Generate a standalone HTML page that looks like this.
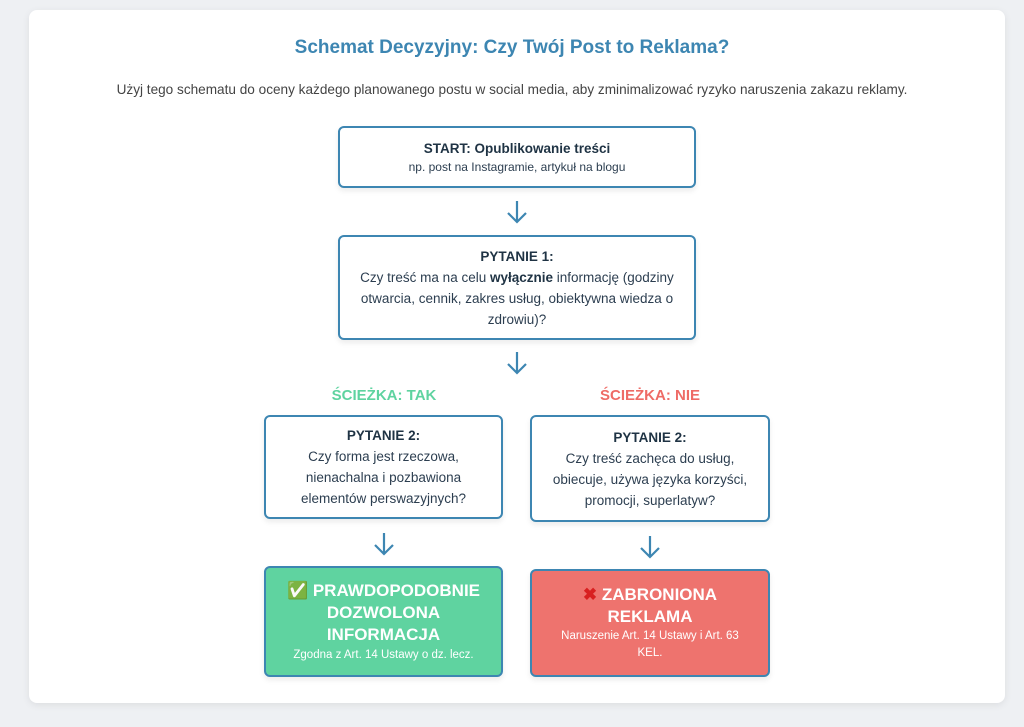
<!DOCTYPE html>
<html><head><meta charset="utf-8"><style>
body{margin:0;width:1024px;height:727px;background:#eef0f3;font-family:"Liberation Sans",sans-serif;position:relative;overflow:hidden}
.card{position:absolute;left:29px;top:10px;width:976px;height:693px;background:#fff;border-radius:8px;box-shadow:0 2px 8px rgba(0,0,0,.08)}
.t{position:absolute;left:0;width:1024px;text-align:center}
.box{position:absolute;box-sizing:border-box;border:2px solid #3d86b2;border-radius:6px;background:#fff;display:flex;flex-direction:column;justify-content:center;align-items:center;text-align:center;color:#2c3e50;font-size:13.5px;line-height:21px;box-shadow:0 3px 6px rgba(0,0,0,.08)}
.box b{color:#1f3344}
.arr{position:absolute;width:22px;height:24px}
.lab{position:absolute;font-weight:bold;font-size:15px;text-align:center;width:240px}
</style></head><body>
<div class="card"></div>
<div class="t" style="top:37px;font-size:19px;font-weight:bold;color:#3d86b2">Schemat Decyzyjny: Czy Twój Post to Reklama?</div>
<div class="t" style="top:82px;font-size:13.6px;color:#444">Użyj tego schematu do oceny każdego planowanego postu w social media, aby zminimalizować ryzyko naruszenia zakazu reklamy.</div>
<div class="box" style="left:338px;top:126px;width:358px;height:62px"><b>START: Opublikowanie treści</b><span style="font-size:12px;line-height:17px">np. post na Instagramie, artykuł na blogu</span></div>
<svg class="arr" style="left:506px;top:200px" viewBox="0 0 22 24"><path d="M11 1V22M2 13l9 9 9-9" fill="none" stroke="#3d86b2" stroke-width="2.2"/></svg>
<div class="box" style="left:338px;top:235px;width:358px;height:105px;padding:0 14px"><b>PYTANIE 1:</b><span>Czy treść ma na celu <b>wyłącznie</b> informację (godziny otwarcia, cennik, zakres usług, obiektywna wiedza o zdrowiu)?</span></div>
<svg class="arr" style="left:506px;top:351px" viewBox="0 0 22 24"><path d="M11 1V22M2 13l9 9 9-9" fill="none" stroke="#3d86b2" stroke-width="2.2"/></svg>
<div class="lab" style="left:264px;top:387px;color:#5fd3a0">ŚCIEŻKA: TAK</div>
<div class="lab" style="left:530px;top:387px;color:#ee6b66">ŚCIEŻKA: NIE</div>
<div class="box" style="left:264px;top:415px;width:239px;height:104px;padding:0 14px"><b>PYTANIE 2:</b><span>Czy forma jest rzeczowa, nienachalna i pozbawiona elementów perswazyjnych?</span></div>
<div class="box" style="left:530px;top:415px;width:240px;height:107px;padding:0 10px"><b>PYTANIE 2:</b><span>Czy treść zachęca do usług, obiecuje, używa języka korzyści, promocji, superlatyw?</span></div>
<svg class="arr" style="left:373px;top:532px" viewBox="0 0 22 24"><path d="M11 1V22M2 13l9 9 9-9" fill="none" stroke="#3d86b2" stroke-width="2.2"/></svg>
<svg class="arr" style="left:639px;top:535px" viewBox="0 0 22 24"><path d="M11 1V22M2 13l9 9 9-9" fill="none" stroke="#3d86b2" stroke-width="2.2"/></svg>
<div class="box" style="left:264px;top:566px;width:239px;height:111px;background:#5fd3a0;color:#fff"><span style="font-size:17px;font-weight:bold;line-height:22px">✅ PRAWDOPODOBNIE<br>DOZWOLONA<br>INFORMACJA</span><span style="font-size:11.5px;line-height:18px">Zgodna z Art. 14 Ustawy o dz. lecz.</span></div>
<div class="box" style="left:530px;top:569px;width:240px;height:108px;background:#ee736e;color:#fff"><span style="font-size:17px;font-weight:bold;line-height:22px"><span style="color:#d82020">✖</span> ZABRONIONA<br>REKLAMA</span><span style="font-size:11.5px;line-height:17px">Naruszenie Art. 14 Ustawy i Art. 63<br>KEL.</span></div>
</body></html>
